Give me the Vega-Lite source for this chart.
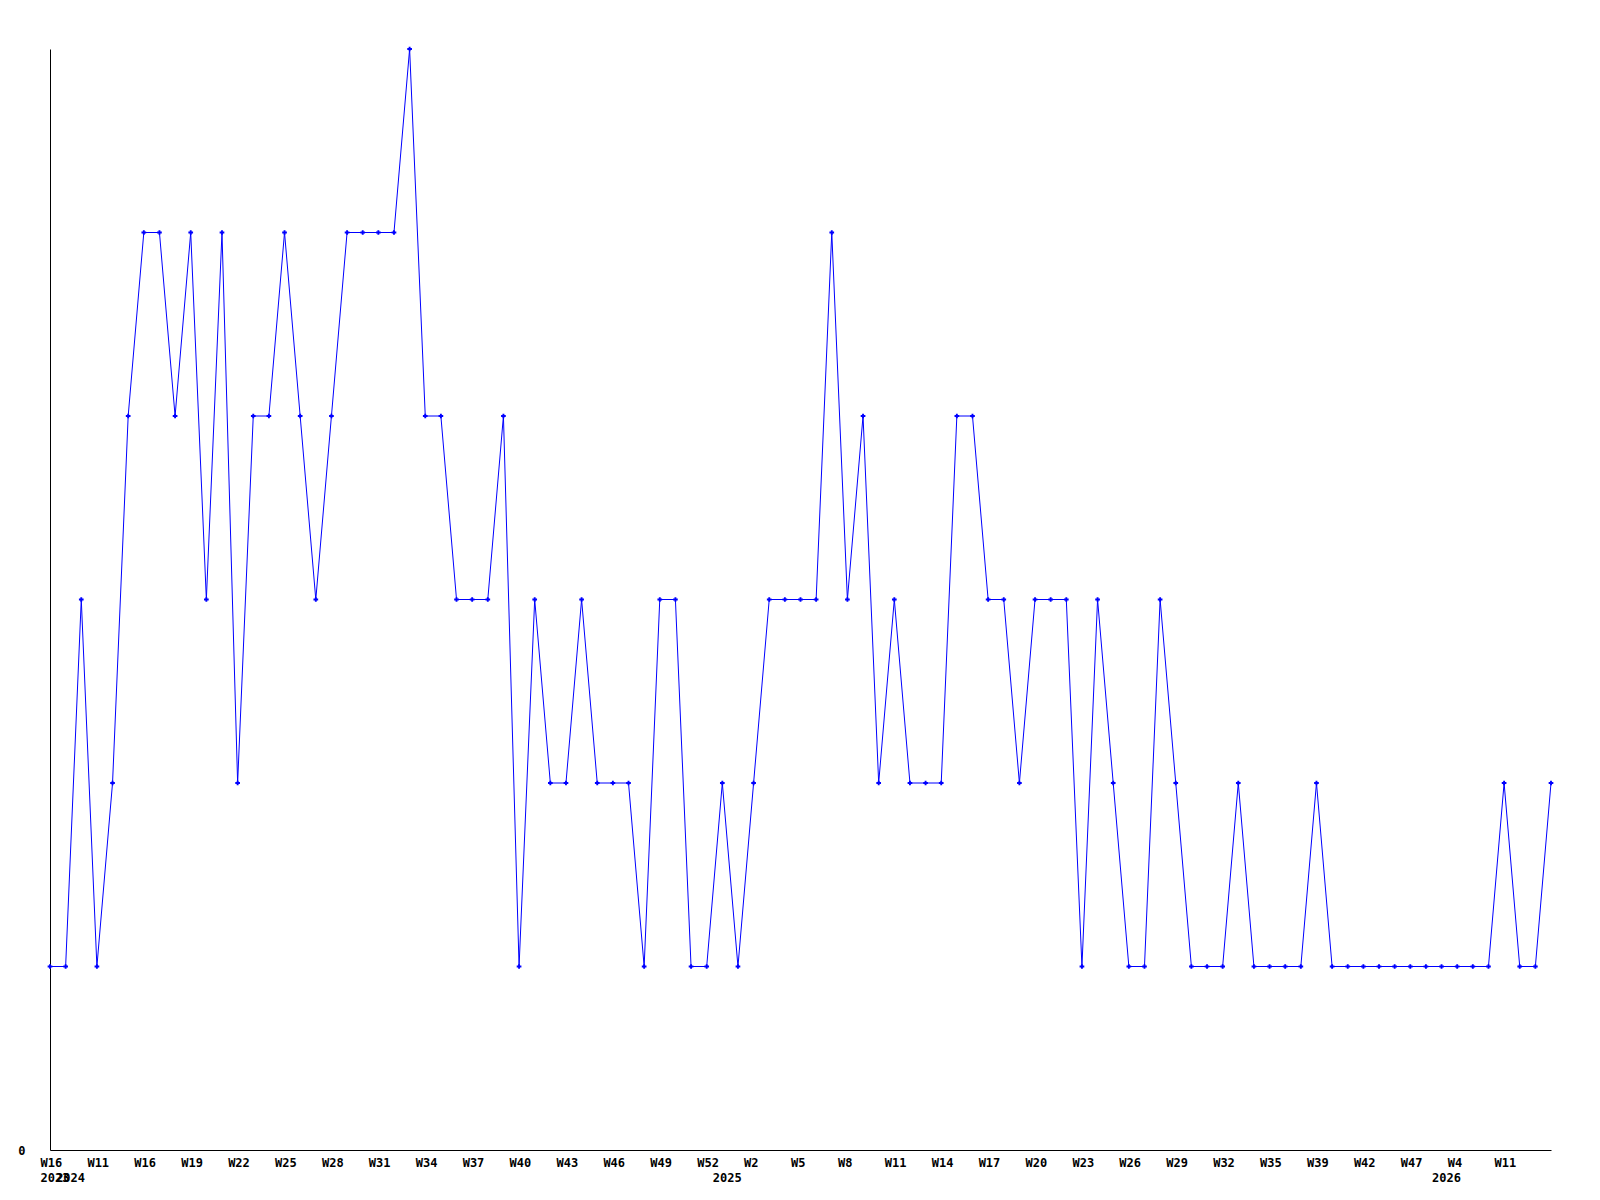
{
  "$schema": "https://vega.github.io/schema/vega-lite/v6.json",
  "width": 1501,
  "height": 1101,
  "autosize": {"type": "none"},
  "padding": {"left": 50, "top": 49, "right": 49, "bottom": 50},
  "background": "white",
  "config": {"view": {"stroke": null}},
  "data": {"values": [
    {"wk": "2023 W16", "v": 1}, {"wk": "2024 W9", "v": 1}, {"wk": "2024 W10", "v": 3}, {"wk": "2024 W11", "v": 1},
    {"wk": "2024 W13", "v": 2}, {"wk": "2024 W15", "v": 4}, {"wk": "2024 W16", "v": 5}, {"wk": "2024 W17", "v": 5},
    {"wk": "2024 W18", "v": 4}, {"wk": "2024 W19", "v": 5}, {"wk": "2024 W20", "v": 3}, {"wk": "2024 W21", "v": 5},
    {"wk": "2024 W22", "v": 2}, {"wk": "2024 W23", "v": 4}, {"wk": "2024 W24", "v": 4}, {"wk": "2024 W25", "v": 5},
    {"wk": "2024 W26", "v": 4}, {"wk": "2024 W27", "v": 3}, {"wk": "2024 W28", "v": 4}, {"wk": "2024 W29", "v": 5},
    {"wk": "2024 W30", "v": 5}, {"wk": "2024 W31", "v": 5}, {"wk": "2024 W32", "v": 5}, {"wk": "2024 W33", "v": 6},
    {"wk": "2024 W34", "v": 4}, {"wk": "2024 W35", "v": 4}, {"wk": "2024 W36", "v": 3}, {"wk": "2024 W37", "v": 3},
    {"wk": "2024 W38", "v": 3}, {"wk": "2024 W39", "v": 4}, {"wk": "2024 W40", "v": 1}, {"wk": "2024 W41", "v": 3},
    {"wk": "2024 W42", "v": 2}, {"wk": "2024 W43", "v": 2}, {"wk": "2024 W44", "v": 3}, {"wk": "2024 W45", "v": 2},
    {"wk": "2024 W46", "v": 2}, {"wk": "2024 W47", "v": 2}, {"wk": "2024 W48", "v": 1}, {"wk": "2024 W49", "v": 3},
    {"wk": "2024 W50", "v": 3}, {"wk": "2024 W51", "v": 1}, {"wk": "2024 W52", "v": 1}, {"wk": "2025 W0", "v": 2},
    {"wk": "2025 W1", "v": 1}, {"wk": "2025 W2", "v": 2}, {"wk": "2025 W3", "v": 3}, {"wk": "2025 W4", "v": 3},
    {"wk": "2025 W5", "v": 3}, {"wk": "2025 W6", "v": 3}, {"wk": "2025 W7", "v": 5}, {"wk": "2025 W8", "v": 3},
    {"wk": "2025 W9", "v": 4}, {"wk": "2025 W10", "v": 2}, {"wk": "2025 W11", "v": 3}, {"wk": "2025 W12", "v": 2},
    {"wk": "2025 W13", "v": 2}, {"wk": "2025 W14", "v": 2}, {"wk": "2025 W15", "v": 4}, {"wk": "2025 W16", "v": 4},
    {"wk": "2025 W17", "v": 3}, {"wk": "2025 W18", "v": 3}, {"wk": "2025 W19", "v": 2}, {"wk": "2025 W20", "v": 3},
    {"wk": "2025 W21", "v": 3}, {"wk": "2025 W22", "v": 3}, {"wk": "2025 W23", "v": 1}, {"wk": "2025 W24", "v": 3},
    {"wk": "2025 W25", "v": 2}, {"wk": "2025 W26", "v": 1}, {"wk": "2025 W27", "v": 1}, {"wk": "2025 W28", "v": 3},
    {"wk": "2025 W29", "v": 2}, {"wk": "2025 W30", "v": 1}, {"wk": "2025 W31", "v": 1}, {"wk": "2025 W32", "v": 1},
    {"wk": "2025 W33", "v": 2}, {"wk": "2025 W34", "v": 1}, {"wk": "2025 W35", "v": 1}, {"wk": "2025 W36", "v": 1},
    {"wk": "2025 W38", "v": 1}, {"wk": "2025 W39", "v": 2}, {"wk": "2025 W40", "v": 1}, {"wk": "2025 W41", "v": 1},
    {"wk": "2025 W42", "v": 1}, {"wk": "2025 W44", "v": 1}, {"wk": "2025 W45", "v": 1}, {"wk": "2025 W47", "v": 1},
    {"wk": "2025 W50", "v": 1}, {"wk": "2026 W0", "v": 1}, {"wk": "2026 W4", "v": 1}, {"wk": "2026 W6", "v": 1},
    {"wk": "2026 W9", "v": 1}, {"wk": "2026 W11", "v": 2}, {"wk": "2026 W12", "v": 1}, {"wk": "2026 W13", "v": 1},
    {"wk": "2026 W14", "v": 2}
  ]},
  "encoding": {
    "y": {
      "field": "v", "type": "quantitative",
      "scale": {"domain": [0, 6], "nice": false, "zero": true},
      "axis": {"title": null, "values": [0], "grid": false, "ticks": false, "labelPadding": 25,
               "domainColor": "black", "domainWidth": 1,
               "labelFont": "DejaVu Sans Mono", "labelFontWeight": "bold", "labelFontSize": 12, "labelColor": "black"}
    }
  },
  "layer": [
    {
      "mark": {"type": "line", "color": "#0000ff", "strokeWidth": 1},
      "encoding": {
        "x": {
          "field": "wk", "type": "ordinal", "sort": null,
          "scale": {"type": "point", "padding": 0},
          "axis": {
            "orient": "bottom",
            "title": null, "grid": false, "ticks": false, "domainColor": "black", "domainWidth": 1,
            "values": ["2023 W16", "2024 W11", "2024 W16", "2024 W19", "2024 W22", "2024 W25", "2024 W28", "2024 W31", "2024 W34", "2024 W37", "2024 W40", "2024 W43", "2024 W46", "2024 W49", "2024 W52", "2025 W2", "2025 W5", "2025 W8", "2025 W11", "2025 W14", "2025 W17", "2025 W20", "2025 W23", "2025 W26", "2025 W29", "2025 W32", "2025 W35", "2025 W39", "2025 W42", "2025 W47", "2026 W4", "2026 W11"],
            "labelExpr": "split(datum.value, ' ')[1]",
            "labelAngle": 0, "labelAlign": "left", "labelOffset": -10, "labelBaseline": "top", "labelPadding": 7,
            "labelOverlap": false, "labelFlush": false, "labelBound": false,
            "labelFont": "DejaVu Sans Mono", "labelFontWeight": "bold", "labelFontSize": 12, "labelColor": "black"
          }
        }
      }
    },
    {
      "mark": {"type": "point", "shape": "cross", "filled": true, "color": "#0000ff", "size": 22, "opacity": 1},
      "encoding": {
        "x": {
          "field": "wk", "type": "ordinal", "sort": null,
          "scale": {"type": "point", "padding": 0},
          "axis": {
            "orient": "bottom",
            "title": null, "grid": false, "ticks": false, "domain": false,
            "values": ["2023 W16", "2024 W9", "2025 W0", "2026 W0"],
            "labelExpr": "split(datum.value, ' ')[0]",
            "labelAngle": 0, "labelAlign": "left", "labelOffset": -10, "labelBaseline": "top", "labelPadding": 22,
            "labelOverlap": false, "labelFlush": false, "labelBound": false,
            "labelFont": "DejaVu Sans Mono", "labelFontWeight": "bold", "labelFontSize": 12, "labelColor": "black"
          }
        }
      }
    }
  ],
  "resolve": {"axis": {"x": "independent"}}
}
